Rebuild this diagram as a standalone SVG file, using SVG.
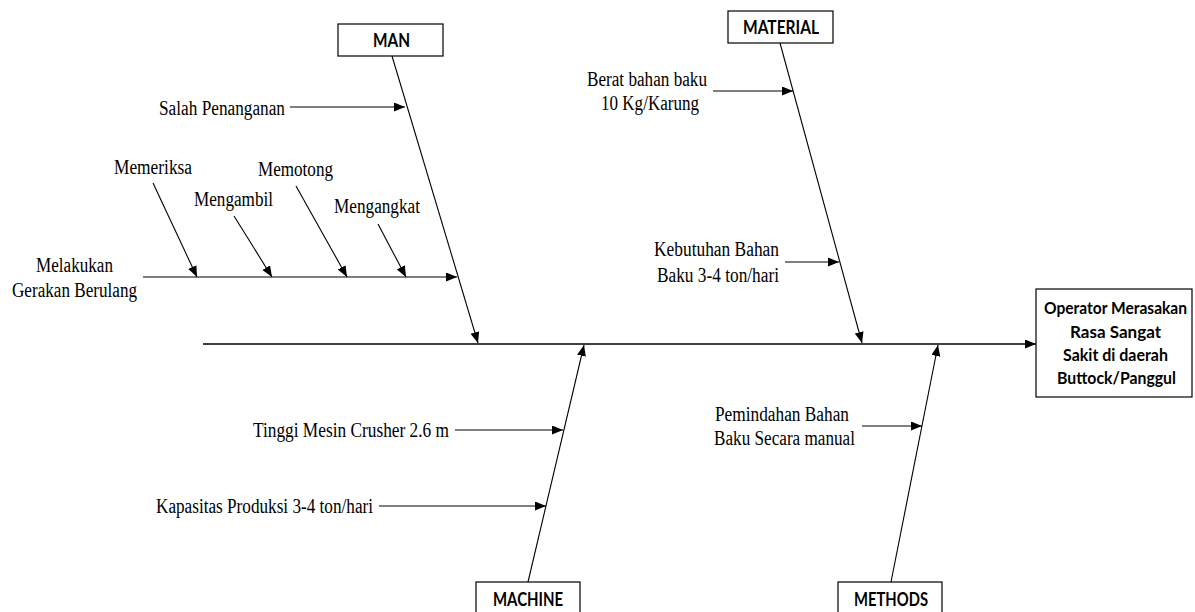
<svg xmlns="http://www.w3.org/2000/svg" width="1195" height="612" viewBox="0 0 1195 612">
<defs>
<marker id="ah" markerUnits="userSpaceOnUse" markerWidth="12" markerHeight="10" refX="11" refY="4.5" orient="auto">
<path d="M0,0 L11,4.5 L0,9 Z" fill="#000"/>
</marker>
<style>
.ar{stroke:#000;stroke-width:1.1;fill:none;marker-end:url(#ah)}
.sp{stroke:#000;stroke-width:1.4;fill:none;marker-end:url(#ah)}
.bx{fill:#fff;stroke:#000;stroke-width:1.2}
.t{font-family:"Liberation Serif","Times New Roman",serif;font-size:20px;fill:#000}
.c{font-family:Lato,"Liberation Sans",sans-serif;font-weight:bold;font-size:18px;fill:#000}
.r{font-family:Lato,"Liberation Sans",sans-serif;font-weight:bold;font-size:17px;fill:#000}
</style>
</defs>
<rect width="1195" height="612" fill="#fff"/>
<g id="connectors">
<line class="sp" x1="203" y1="344" x2="1036" y2="344"/>
<line class="ar" x1="392" y1="56" x2="478" y2="343"/>
<line class="ar" x1="780" y1="43" x2="862" y2="343"/>
<line class="ar" x1="528" y1="582" x2="584" y2="345"/>
<line class="ar" x1="891" y1="582" x2="938" y2="345"/>
<line class="ar" x1="290" y1="107" x2="405" y2="107"/>
<line class="ar" x1="143" y1="277" x2="457" y2="277"/>
<line class="ar" x1="153" y1="183" x2="197" y2="277"/>
<line class="ar" x1="234" y1="216" x2="272" y2="277"/>
<line class="ar" x1="296" y1="186" x2="347" y2="277"/>
<line class="ar" x1="378" y1="224" x2="406" y2="277"/>
<line class="ar" x1="713" y1="91" x2="793" y2="91"/>
<line class="ar" x1="785" y1="262" x2="839" y2="262"/>
<line class="ar" x1="455" y1="430" x2="563" y2="430"/>
<line class="ar" x1="379" y1="506" x2="546" y2="506"/>
<line class="ar" x1="862" y1="426" x2="922" y2="426"/>
</g>
<g id="man">
<rect class="bx" x="338" y="24" width="105" height="32"/>
<text class="c" x="373" y="47" textLength="37" lengthAdjust="spacingAndGlyphs">MAN</text>
</g>
<g id="material">
<rect class="bx" x="728" y="11" width="105" height="32"/>
<text class="c" x="743" y="34" textLength="76" lengthAdjust="spacingAndGlyphs">MATERIAL</text>
</g>
<g id="machine">
<rect class="bx" x="476" y="582" width="104" height="34"/>
<text class="c" x="493" y="606" textLength="70" lengthAdjust="spacingAndGlyphs">MACHINE</text>
</g>
<g id="methods">
<rect class="bx" x="838" y="582" width="104" height="34"/>
<text class="c" x="854" y="606" textLength="74" lengthAdjust="spacingAndGlyphs">METHODS</text>
</g>
<g id="effect">
<rect class="bx" x="1036" y="289" width="156" height="108"/>
<text class="r" x="1044" y="314" font-size="16" textLength="143" lengthAdjust="spacingAndGlyphs">Operator Merasakan</text>
<text class="r" x="1070" y="338" textLength="91" lengthAdjust="spacingAndGlyphs">Rasa Sangat</text>
<text class="r" x="1063" y="361" textLength="105" lengthAdjust="spacingAndGlyphs">Sakit di daerah</text>
<text class="r" x="1057" y="384" textLength="119" lengthAdjust="spacingAndGlyphs">Buttock/Panggul</text>
</g>
<g id="cause-salah"><text class="t" x="159" y="115" textLength="126" lengthAdjust="spacingAndGlyphs">Salah Penanganan</text></g>
<g id="cause-memeriksa"><text class="t" x="114" y="174" textLength="78" lengthAdjust="spacingAndGlyphs">Memeriksa</text></g>
<g id="cause-mengambil"><text class="t" x="194" y="206" textLength="79" lengthAdjust="spacingAndGlyphs">Mengambil</text></g>
<g id="cause-memotong"><text class="t" x="258" y="176" textLength="75" lengthAdjust="spacingAndGlyphs">Memotong</text></g>
<g id="cause-mengangkat"><text class="t" x="334" y="213" textLength="86" lengthAdjust="spacingAndGlyphs">Mengangkat</text></g>
<g id="cause-melakukan">
<text class="t" x="36" y="272" textLength="77" lengthAdjust="spacingAndGlyphs">Melakukan</text>
<text class="t" x="12" y="297" textLength="125" lengthAdjust="spacingAndGlyphs">Gerakan Berulang</text>
</g>
<g id="cause-berat">
<text class="t" x="587" y="86" textLength="120" lengthAdjust="spacingAndGlyphs">Berat bahan baku</text>
<text class="t" x="601" y="110" textLength="98" lengthAdjust="spacingAndGlyphs">10 Kg/Karung</text>
</g>
<g id="cause-kebutuhan">
<text class="t" x="654" y="256" textLength="125" lengthAdjust="spacingAndGlyphs">Kebutuhan Bahan</text>
<text class="t" x="657" y="282" textLength="122" lengthAdjust="spacingAndGlyphs">Baku 3-4 ton/hari</text>
</g>
<g id="cause-tinggi"><text class="t" x="253" y="437" textLength="196" lengthAdjust="spacingAndGlyphs">Tinggi Mesin Crusher 2.6 m</text></g>
<g id="cause-kapasitas"><text class="t" x="156" y="513" textLength="217" lengthAdjust="spacingAndGlyphs">Kapasitas Produksi 3-4 ton/hari</text></g>
<g id="cause-pemindahan">
<text class="t" x="715" y="421" textLength="134" lengthAdjust="spacingAndGlyphs">Pemindahan Bahan</text>
<text class="t" x="714" y="445" textLength="141" lengthAdjust="spacingAndGlyphs">Baku Secara manual</text>
</g>
</svg>
